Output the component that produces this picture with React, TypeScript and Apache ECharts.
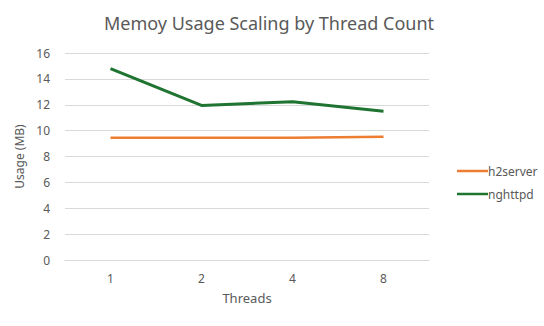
import React, { useEffect, useRef } from "react";
import * as echarts from "echarts";

const categories = ["1", "2", "4", "8"];
const h2server = [9.45, 9.45, 9.45, 9.53];
const nghttpd = [14.8, 11.95, 12.23, 11.5];
const yTicks = { min: 0, max: 16, interval: 2 };

export default function App() {
  const ref = useRef<HTMLDivElement>(null);
  useEffect(() => {
    if (!ref.current) return;
    const chart = echarts.init(ref.current, null, { renderer: "svg" });
    const font = "Noto Sans";
    chart.setOption({
      animation: false,
      textStyle: { fontFamily: font },
      title: {
        text: "Memoy Usage Scaling by Thread Count",
        left: 264,
        textAlign: "center",
        top: 9,
        textStyle: { fontSize: 18, fontWeight: "normal", color: "#595959", fontFamily: font },
      },
      grid: { left: 65, right: 115, top: 53, bottom: 66, containLabel: false },
      legend: {
        orient: "vertical",
        left: 452,
        top: 160,
        itemGap: 11,
        itemWidth: 31,
        itemHeight: 15,
        textStyle: { fontSize: 12, color: "#595959", fontFamily: font, padding: [0, 0, 0, -5] },
        data: [
          { name: "h2server", icon: "path://M0,6.5 L31,6.5 L31,9 L0,9 Z" },
          { name: "nghttpd", icon: "path://M0,6.5 L31,6.5 L31,9 L0,9 Z" },
        ],
      },
      xAxis: {
        type: "category",
        data: categories,
        boundaryGap: true,
        name: "Threads",
        nameLocation: "middle",
        nameGap: 31,
        nameTextStyle: { fontSize: 13, color: "#595959", fontFamily: font },
        axisLine: { show: true, lineStyle: { color: "#d9d9d9", width: 1 } },
        axisTick: { show: false },
        axisLabel: { fontSize: 12, color: "#595959", margin: 12, fontFamily: font },
      },
      yAxis: {
        type: "value",
        min: yTicks.min,
        max: yTicks.max,
        interval: yTicks.interval,
        name: "Usage (MB)",
        nameLocation: "middle",
        nameGap: 33,
        nameTextStyle: { fontSize: 12, color: "#595959", fontFamily: font },
        axisLine: { show: false },
        axisTick: { show: false },
        axisLabel: { fontSize: 12, color: "#595959", margin: 15, fontFamily: font },
        splitLine: { lineStyle: { color: "#d9d9d9", width: 1 } },
      },
      series: [
        {
          name: "h2server",
          type: "line",
          data: h2server,
          showSymbol: false,
          symbol: "none",
          lineStyle: { color: "#ED7D31", width: 2.5 },
          itemStyle: { color: "#ED7D31" },
        },
        {
          name: "nghttpd",
          type: "line",
          data: nghttpd,
          showSymbol: false,
          symbol: "none",
          lineStyle: { color: "#1E7430", width: 3 },
          itemStyle: { color: "#1E7430" },
        },
      ],
    });
    return () => chart.dispose();
  }, []);
  return <div ref={ref} style={{ width: 544, height: 326, position: "absolute", left: 0, top: 0 }} />;
}
